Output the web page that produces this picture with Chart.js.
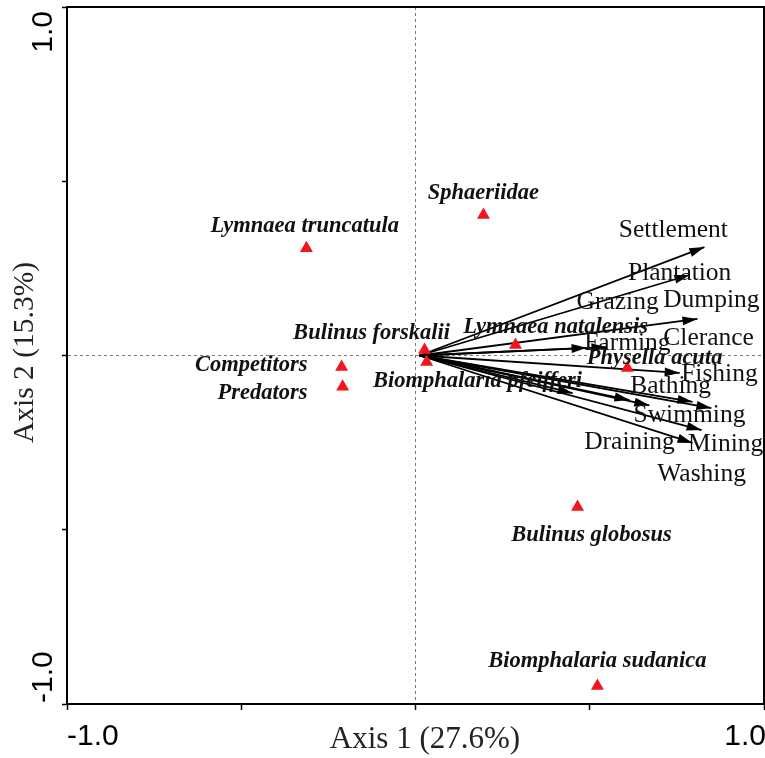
<!DOCTYPE html>
<html>
<head>
<meta charset="utf-8">
<script src="https://cdn.jsdelivr.net/npm/chart.js@4.4.1/dist/chart.umd.min.js"></script>
<style>
  html, body { margin: 0; padding: 0; background: #fff; }
  canvas { display: block; }
</style>
</head>
<body>
<canvas id="myChart" width="765" height="758"></canvas>
<script>
// species scores (red triangles)
const speciesNames = [
  "Sphaeriidae", "Lymnaea truncatula", "Bulinus forskalii", "Biomphalaria pfeifferi",
  "Competitors", "Predators", "Lymnaea natalensis", "Physella acuta",
  "Bulinus globosus", "Biomphalaria sudanica"
];
const speciesX = [0.195, -0.313, 0.026, 0.032, -0.212, -0.209, 0.287, 0.608, 0.465, 0.522];
const speciesY = [0.403, 0.308, 0.016, -0.019, -0.033, -0.090, 0.030, -0.036, -0.435, -0.948];
// where the species names sit
const speciesLabelX = [0.195, -0.318, -0.126, 0.178, -0.471, -0.439, 0.402, 0.686, 0.505, 0.522];
const speciesLabelY = [0.466, 0.372, 0.065, -0.073, -0.027, -0.108, 0.082, -0.007, -0.515, -0.877];

// environmental arrows (tips)
const arrowOrigin = [0.012, 0];
const arrowX = [0.829, 0.786, 0.809, 0.548, 0.491, 0.758, 0.451, 0.614, 0.671, 0.795, 0.849, 0.821, 0.795];
const arrowY = [0.311, 0.231, 0.105, 0.024, 0.022, -0.050, -0.108, -0.128, -0.143, -0.133, -0.151, -0.214, -0.251];

const envLabels = ["Settlement", "Plantation", "Grazing", "Dumping", "Farming", "Clerance",
  "Fishing", "Bathing", "Swimming", "Draining", "Mining", "Washing"];
const envLabelX = [0.740, 0.758, 0.580, 0.849, 0.608, 0.841, 0.872, 0.732, 0.786, 0.614, 0.890, 0.821];
const envLabelY = [0.359, 0.235, 0.152, 0.158, 0.036, 0.050, -0.053, -0.088, -0.171, -0.250, -0.254, -0.341];

const axisTicks = [-1.0, 1.0];
const xTitle = "Axis 1 (27.6%)";
const yTitle = "Axis 2 (15.3%)";

const arrowSets = arrowX.map((x, i) => ({
  type: "line",
  data: [{ x: arrowOrigin[0], y: arrowOrigin[1] }, { x: x, y: arrowY[i] }],
  borderColor: "#000",
  borderWidth: 1.8,
  pointRadius: 0,
  fill: false,
  order: 2,
}));

const decorations = {
  id: "decorations",
  afterDatasetsDraw(chart) {
    const ctx = chart.ctx;
    const xs = chart.scales.x;
    const ys = chart.scales.y;
    const area = chart.chartArea;

    // top and right frame
    ctx.save();
    ctx.strokeStyle = "#000";
    ctx.lineWidth = 2;
    ctx.beginPath();
    ctx.moveTo(area.left, area.top);
    ctx.lineTo(area.right, area.top);
    ctx.lineTo(area.right, area.bottom);
    ctx.stroke();

    // arrow heads
    const ox = xs.getPixelForValue(arrowOrigin[0]);
    const oy = ys.getPixelForValue(arrowOrigin[1]);
    ctx.fillStyle = "#000";
    arrowX.forEach((v, i) => {
      const tx = xs.getPixelForValue(v);
      const ty = ys.getPixelForValue(arrowY[i]);
      const a = Math.atan2(ty - oy, tx - ox);
      const len = 15, half = 4.5;
      ctx.beginPath();
      ctx.moveTo(tx, ty);
      ctx.lineTo(tx - len * Math.cos(a) + half * Math.sin(a), ty - len * Math.sin(a) - half * Math.cos(a));
      ctx.lineTo(tx - len * Math.cos(a) - half * Math.sin(a), ty - len * Math.sin(a) + half * Math.cos(a));
      ctx.closePath();
      ctx.fill();
    });

    // labels
    ctx.textAlign = "center";
    ctx.textBaseline = "middle";
    ctx.fillStyle = "#111";
    ctx.font = 'bold italic 22.5px "Liberation Serif", serif';
    speciesNames.forEach((n, i) => {
      ctx.fillText(n, xs.getPixelForValue(speciesLabelX[i]), ys.getPixelForValue(speciesLabelY[i]));
    });
    ctx.font = '25.5px "Liberation Serif", serif';
    envLabels.forEach((n, i) => {
      ctx.fillText(n, xs.getPixelForValue(envLabelX[i]), ys.getPixelForValue(envLabelY[i]));
    });

    // tick labels
    ctx.fillStyle = "#000";
    ctx.font = '30px "Liberation Sans", Arial, sans-serif';
    ctx.textBaseline = "alphabetic";
    const tickY = area.bottom + 41;
    ctx.textAlign = "left";
    ctx.fillText(axisTicks[0].toFixed(1), xs.getPixelForValue(axisTicks[0]), tickY);
    ctx.textAlign = "right";
    ctx.fillText(axisTicks[1].toFixed(1), xs.getPixelForValue(axisTicks[1]) + 2, tickY);

    ctx.save();
    ctx.translate(52, 0);
    ctx.rotate(-Math.PI / 2);
    ctx.textAlign = "right";
    ctx.fillText(axisTicks[1].toFixed(1), -ys.getPixelForValue(axisTicks[1]) - 4, 0);
    ctx.textAlign = "left";
    ctx.fillText(axisTicks[0].toFixed(1), -ys.getPixelForValue(axisTicks[0]) + 1, 0);
    ctx.restore();

    // axis titles
    ctx.textAlign = "center";
    ctx.textBaseline = "middle";
    ctx.fillStyle = "#222";
    ctx.font = '31px "Liberation Serif", serif';
    ctx.fillText(xTitle, 425, 740);
    ctx.font = '29.5px "Liberation Serif", serif';
    ctx.save();
    ctx.translate(25, ys.getPixelForValue(0) - 3);
    ctx.rotate(-Math.PI / 2);
    ctx.fillText(yTitle, 0, 0);
    ctx.restore();

    ctx.restore();
  },
};

const zeroGrid = (c) => (c.tick && c.tick.value === 0 ? "#7a7a7a" : "rgba(0,0,0,0)");

new Chart(document.getElementById("myChart").getContext("2d"), {
  type: "scatter",
  data: {
    datasets: [
      ...arrowSets,
      {
        label: "Species",
        data: speciesX.map((x, i) => ({ x: x, y: speciesY[i] })),
        pointStyle: "triangle",
        pointRadius: 7.5,
        backgroundColor: "#f5141e",
        borderWidth: 0,
        order: 1,
      },
    ],
  },
  options: {
    responsive: false,
    animation: false,
    devicePixelRatio: 1,
    layout: { autoPadding: false, padding: { left: 62, right: 1, top: 7, bottom: 48 } },
    plugins: { legend: { display: false }, tooltip: { enabled: false } },
    scales: {
      x: {
        type: "linear",
        min: -1,
        max: 1,
        ticks: { stepSize: 0.5, display: false },
        grid: { color: zeroGrid, lineWidth: 1, tickLength: 6, tickColor: "#000", tickWidth: 1.5 },
        border: { color: "#000", width: 2, dash: [3, 3] },
      },
      y: {
        type: "linear",
        min: -1,
        max: 1,
        ticks: { stepSize: 0.5, display: false },
        grid: { color: zeroGrid, lineWidth: 1, tickLength: 5, tickColor: "#000", tickWidth: 1.5 },
        border: { color: "#000", width: 2, dash: [3, 3] },
      },
    },
  },
  plugins: [decorations],
});
</script>
</body>
</html>
